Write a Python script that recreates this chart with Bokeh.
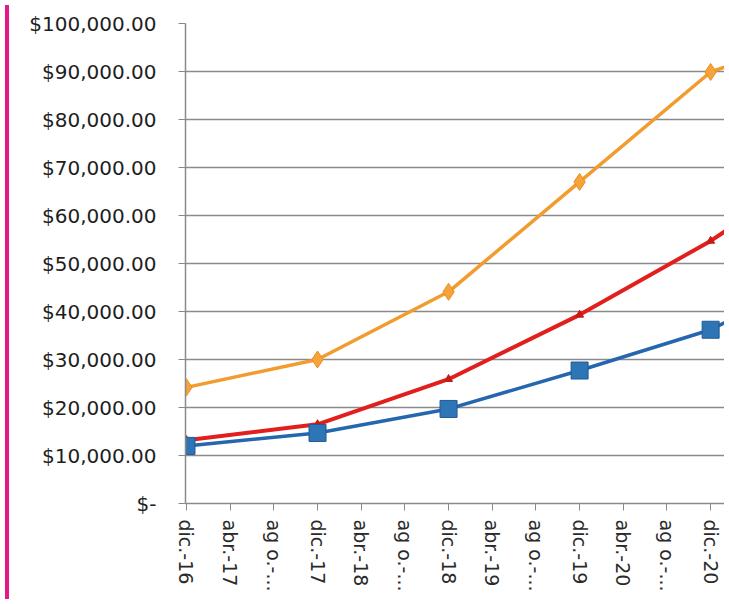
from bokeh.plotting import figure
from bokeh.models import FixedTicker, Div, Range1d
from bokeh.layouts import row
from bokeh.embed import file_html
from bokeh.resources import INLINE

# ---- data ----
point_labels = ["dic.-16", "dic.-17", "dic.-18", "dic.-19", "dic.-20", "dic.-21"]
point_months = [0, 12, 24, 36, 48, 60]          # months since dic.-16
blue_values = [12000, 14700, 19700, 27700, 36200, 50000]
red_values = [13200, 16500, 25900, 39300, 54700, 73000]
orange_values = [24200, 30000, 44100, 67000, 89900, 99500]

x_tick_months = [0, 4, 8, 12, 16, 20, 24, 28, 32, 36, 40, 44, 48]
x_tick_labels = ["dic.-16", "abr.-17", "ag o.-...", "dic.-17", "abr.-18", "ag o.-...",
                 "dic.-18", "abr.-19", "ag o.-...", "dic.-19", "abr.-20", "ag o.-...",
                 "dic.-20"]
y_ticks = [0, 10000, 20000, 30000, 40000, 50000, 60000, 70000, 80000, 90000, 100000]
y_tick_labels = ["$-", "$10,000.00", "$20,000.00", "$30,000.00", "$40,000.00",
                 "$50,000.00", "$60,000.00", "$70,000.00", "$80,000.00",
                 "$90,000.00", "$100,000.00"]

FONT = "DejaVu Sans"
GRID = "#8a8a8a"

p = figure(width=710, height=594, output_backend="svg", toolbar_location=None,
           x_range=Range1d(-0.09, 49.27), y_range=Range1d(0, 100000),
           min_border_left=171, min_border_right=0, min_border_top=23,
           min_border_bottom=88)
p.outline_line_color = None
p.background_fill_color = "white"
p.border_fill_color = "white"

# axes
p.xaxis.ticker = FixedTicker(ticks=x_tick_months)
p.xaxis.major_label_overrides = {m: l for m, l in zip(x_tick_months, x_tick_labels)}
p.xaxis.major_label_orientation = "vertical"
p.xaxis.minor_tick_line_color = None
p.xaxis.major_tick_out = 7
p.xaxis.major_tick_in = 0
p.xaxis.major_label_standoff = 9
p.xaxis.axis_line_color = GRID
p.xaxis.axis_line_width = 1.5
p.xaxis.major_tick_line_color = GRID
p.xaxis.major_label_text_font = FONT
p.xaxis.major_label_text_font_size = "19px"
p.xaxis.major_label_text_color = "#2a2a2a"

p.yaxis.ticker = FixedTicker(ticks=y_ticks)
p.yaxis.major_label_overrides = {t: l for t, l in zip(y_ticks, y_tick_labels)}
p.yaxis.minor_tick_line_color = None
p.yaxis.major_tick_out = 7
p.yaxis.major_tick_in = 0
p.yaxis.major_label_standoff = 22
p.yaxis.axis_line_color = GRID
p.yaxis.axis_line_width = 1.5
p.yaxis.major_tick_line_color = GRID
p.yaxis.major_label_text_font = FONT
p.yaxis.major_label_text_font_size = "20px"
p.yaxis.major_label_text_color = "#1e1e1e"

p.xgrid.grid_line_color = None
p.ygrid.grid_line_color = GRID
p.ygrid.grid_line_width = 1.5

# series
p.line(point_months, orange_values, line_color="#F29B2E", line_width=3.5)
p.scatter(point_months, orange_values, marker="diamond", size=17,
          fill_color="#F5A33A", line_color="#E8901F", line_width=1)

p.line(point_months, red_values, line_color="#E1201D", line_width=4)
p.scatter(point_months, red_values, marker="triangle", size=8,
          fill_color="#C81A17", line_color="#C81A17")

p.line(point_months, blue_values, line_color="#2467AE", line_width=3.5)
p.scatter(point_months, blue_values, marker="square", size=17,
          fill_color="#2E75B6", line_color="#1F5A96", line_width=1)

edge = Div(text="", width=4, height=594, styles={"background-color": "#E4178C"})
layout = row(edge, p, spacing=0)

open("out.html", "w").write(file_html(layout, INLINE))
